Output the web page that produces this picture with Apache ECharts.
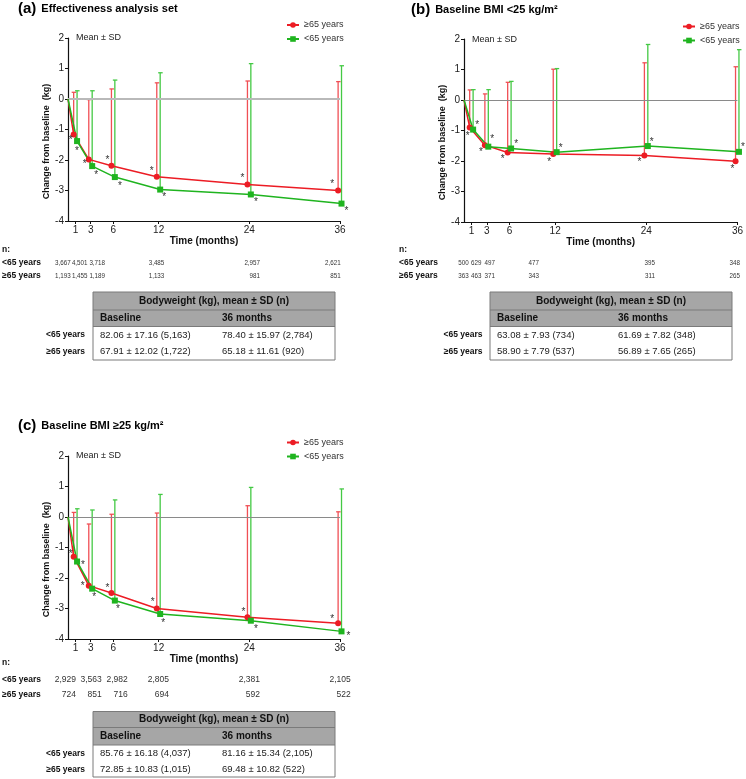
<!DOCTYPE html>
<html>
<head>
<meta charset="utf-8">
<script src="https://cdn.jsdelivr.net/npm/echarts@6/dist/echarts.min.js"></script>
<style>
  html, body { margin: 0; padding: 0; background: #fff; }
  #chart { width: 746px; height: 779px; }
</style>
</head>
<body>
<div id="chart"></div>
<script>
// visit months and x tick labels
var months = [0, 1, 3, 6, 12, 24, 36];
var xTicks = [1, 3, 6, 12, 24, 36];

// (a) effectiveness analysis set: mean change and mean + SD (kg)
var aOldMean = [0, -1.16, -1.98, -2.19, -2.55, -2.80, -3.00];
var aOldUpper = [null, 0.22, -0.02, 0.33, 0.53, 0.59, 0.57];
var aYoungMean = [0, -1.38, -2.20, -2.56, -2.97, -3.13, -3.43];
var aYoungUpper = [null, 0.27, 0.27, 0.62, 0.86, 1.16, 1.09];
var aNYoung = [3667, 4501, 3718, 3485, 2957, 2621];
var aNOld = [1193, 1455, 1189, 1133, 981, 851];
var aTable = [['82.06 ± 17.16 (5,163)', '78.40 ± 15.97 (2,784)'],
              ['67.91 ± 12.02 (1,722)', '65.18 ± 11.61 (920)']];

// (b) baseline BMI <25
var bOldMean = [0, -0.90, -1.48, -1.72, -1.77, -1.82, -2.01];
var bOldUpper = [null, 0.33, 0.20, 0.58, 1.01, 1.22, 1.09];
var bYoungMean = [0, -0.97, -1.53, -1.59, -1.71, -1.51, -1.70];
var bYoungUpper = [null, 0.34, 0.34, 0.61, 1.03, 1.82, 1.65];
var bNYoung = [500, 629, 497, 477, 395, 348];
var bNOld = [363, 463, 371, 343, 311, 265];
var bTable = [['63.08 ± 7.93 (734)', '61.69 ± 7.82 (348)'],
              ['58.90 ± 7.79 (537)', '56.89 ± 7.65 (265)']];

// (c) baseline BMI >=25
var cOldMean = [0, -1.30, -2.25, -2.49, -3.00, -3.29, -3.48];
var cOldUpper = [null, 0.15, -0.23, 0.09, 0.13, 0.37, 0.17];
var cYoungMean = [0, -1.46, -2.35, -2.74, -3.18, -3.40, -3.75];
var cYoungUpper = [null, 0.27, 0.23, 0.56, 0.74, 0.97, 0.92];
var cNYoung = [2929, 3563, 2982, 2805, 2381, 2105];
var cNOld = [724, 851, 716, 694, 592, 522];
var cTable = [['85.76 ± 16.18 (4,037)', '81.16 ± 15.34 (2,105)'],
              ['72.85 ± 10.83 (1,015)', '69.48 ± 10.82 (522)']];

var OLD = '≥65 years', YOUNG = '<65 years';
var FONT = "'Liberation Sans', Arial, sans-serif";
var RED = '#ec1c24', RED_BAR = '#f04f55', GREEN = '#1fb41f', GREEN_BAR = '#44c944';

// pixel offsets of the "*" next to each point (layout only)
var starsA = {old: [[-3, 4], [-4, 3], [-4, -8], [-5, -8], [-5, -8], [-6, -8]],
              young: [[0, 8], [4, 7], [5, 7], [4, 6], [5, 6], [5, 6]]};
var starsB = {old: [[-2, 7], [-4, 5], [-5, 5], [-4, 6], [-5, 5], [-3, 6]],
              young: [[4, -6], [4, -9], [5, -6], [4, -6], [4, -6], [4, -7]]};
var starsC = {old: [[-3, -4], [-6, -1], [-4, -7], [-4, -8], [-4, -7], [-6, -6]],
              young: [[6, 2], [2, 7], [3, 7], [3, 7], [5, 7], [7, 3]]};

var panels = [
  {grid: {left: 68, top: 38, width: 272, height: 183},
   old: [aOldMean, aOldUpper], young: [aYoungMean, aYoungUpper], stars: starsA,
   zero: {color: '#b9b9b9', width: 2}},
  {grid: {left: 464, top: 39, width: 275, height: 183},
   old: [bOldMean, bOldUpper], young: [bYoungMean, bYoungUpper], stars: starsB,
   zero: {color: '#8a8a8a', width: 1}},
  {grid: {left: 68, top: 456, width: 272, height: 183},
   old: [cOldMean, cOldUpper], young: [cYoungMean, cYoungUpper], stars: starsC,
   zero: {color: '#8a8a8a', width: 1}}
];

var JIT_OLD = -0.25, JIT_YOUNG = 0.2;

function errSeries(i, mean, upper, jit, color) {
    var data = [];
    for (var k = 1; k < months.length; k++) {
        data.push([months[k] + jit, mean[k], upper[k]]);
    }
    return {
        type: 'custom', xAxisIndex: i, yAxisIndex: i, data: data, silent: true, z: 4, clip: false,
        encode: {x: 0, y: [1, 2]},
        renderItem: function(params, api) {
            var p0 = api.coord([api.value(0), api.value(1)]);
            var p1 = api.coord([api.value(0), api.value(2)]);
            var st = {stroke: color, lineWidth: 1.3};
            return {type: 'group', children: [
                {type: 'line', shape: {x1: p0[0], y1: p0[1], x2: p1[0], y2: p1[1]}, style: st},
                {type: 'line', shape: {x1: p1[0] - 2, y1: p1[1], x2: p1[0] + 2.5, y2: p1[1]}, style: st}
            ]};
        }
    };
}

function lineSeries(i, name, mean, jit, color, symbol, stars) {
    var data = months.map(function(m, k) {
        var item = {value: [k === 0 ? 0 : m + jit, mean[k]]};
        if (k === 0) {
            item.symbol = 'none';
        } else {
            item.label = {show: true, offset: [stars[k - 1][0], stars[k - 1][1] + 2]};
        }
        return item;
    });
    return {
        type: 'line', name: name, xAxisIndex: i, yAxisIndex: i, data: data, clip: false,
        symbol: symbol, symbolSize: 6, showAllSymbol: true, z: 5,
        itemStyle: {color: color}, lineStyle: {color: color, width: 1.5},
        label: {show: false, position: 'inside', formatter: '*', fontSize: 10, color: '#333'},
        emphasis: {disabled: true}
    };
}

var grids = [], xAxes = [], yAxes = [], series = [];
panels.forEach(function(p, i) {
    grids.push(p.grid);
    xAxes.push({
        type: 'value', gridIndex: i, min: 0, max: 36,
        axisLine: {onZero: false, lineStyle: {color: '#111', width: 1.2}},
        axisTick: {customValues: xTicks, length: 3, lineStyle: {color: '#111'}},
        axisLabel: {customValues: xTicks, margin: 4, fontSize: 10, color: '#222'},
        splitLine: {show: false},
        name: 'Time (months)', nameLocation: 'middle', nameGap: 12,
        nameTextStyle: {fontWeight: 'bold', fontSize: 10, color: '#111'}
    });
    yAxes.push({
        type: 'value', gridIndex: i, min: -4, max: 2, interval: 1,
        axisLine: {show: true, lineStyle: {color: '#111', width: 1.2}},
        axisTick: {show: true, length: 3, lineStyle: {color: '#111'}},
        axisLabel: {margin: 4, fontSize: 10, color: '#222'},
        splitLine: {show: false},
        name: 'Change from baseline  (kg)', nameLocation: 'middle', nameGap: 17,
        nameTextStyle: {fontWeight: 'bold', fontSize: 9, color: '#111', padding: [0, 24, 0, 0]}
    });
    // zero reference line
    series.push({
        type: 'line', xAxisIndex: i, yAxisIndex: i, data: [], z: 2, silent: true,
        markLine: {silent: true, symbol: ['none', 'none'], label: {show: false},
                   lineStyle: {color: p.zero.color, width: p.zero.width, type: 'solid'},
                   data: [{yAxis: 0}]}
    });
    series.push(errSeries(i, p.old[0], p.old[1], JIT_OLD, RED_BAR));
    series.push(errSeries(i, p.young[0], p.young[1], JIT_YOUNG, GREEN_BAR));
    series.push(lineSeries(i, OLD, p.old[0], JIT_OLD, RED, 'circle', p.stars.old));
    series.push(lineSeries(i, YOUNG, p.young[0], JIT_YOUNG, GREEN, 'rect', p.stars.young));
});

function legendAt(left, top) {
    return {
        data: [OLD, YOUNG], orient: 'vertical', left: left, top: top, padding: 0,
        itemGap: 4, itemWidth: 12, itemHeight: 7, selectedMode: false,
        textStyle: {fontSize: 9, color: '#333', lineHeight: 10}
    };
}

function fmt(n) { return n.toLocaleString('en-US'); }

function txt(x, y, s, size, weight, align, color, sx) {
    return {type: 'text', x: x, y: y, scaleX: sx || 1, silent: true, style: {
        text: s, fontSize: size, fontWeight: weight || 'normal', fontFamily: FONT,
        fill: color || '#222', align: align || 'left', verticalAlign: 'middle',
        textAlign: align || 'left', textVerticalAlign: 'middle'}};
}

var graphics = [];

// "Mean ± SD" notes
graphics.push(txt(76, 38, 'Mean ± SD', 9, 'normal', 'left', '#222'));
graphics.push(txt(472, 40, 'Mean ± SD', 9, 'normal', 'left', '#222'));
graphics.push(txt(76, 456, 'Mean ± SD', 9, 'normal', 'left', '#222'));

// n rows under each chart
function nRows(labelX, ys, rights, young, old, size, sx) {
    graphics.push(txt(labelX, ys[0], 'n:', 8.5, 'bold', 'left', '#111'));
    graphics.push(txt(labelX, ys[1], YOUNG, 8.5, 'bold', 'left', '#111'));
    graphics.push(txt(labelX, ys[2], OLD, 8.5, 'bold', 'left', '#111'));
    for (var k = 0; k < rights.length; k++) {
        graphics.push(txt(rights[k], ys[1], fmt(young[k]), size, 'normal', 'right', '#333', sx));
        graphics.push(txt(rights[k], ys[2], fmt(old[k]), size, 'normal', 'right', '#333', sx));
    }
}
nRows(2, [249.5, 262.7, 276], [70.7, 87.5, 105, 164.3, 260, 340.7], aNYoung, aNOld, 8, 0.78);
nRows(399, [249.5, 262.7, 276], [468.7, 481.5, 495, 539, 655, 740], bNYoung, bNOld, 8, 0.78);
nRows(2, [662.7, 679.3, 694.3], [76, 101.7, 127.7, 169, 260, 350.7], cNYoung, cNOld, 8.5, 1);

// bodyweight tables
function table(x, top, w, hs, labelRight, col1, col2, rows) {
    var y1 = top + hs[0], y2 = y1 + hs[1], y3 = y2 + hs[2], y4 = y3 + hs[3];
    graphics.push({type: 'rect', silent: true, shape: {x: x, y: top, width: w, height: y2 - top},
                   style: {fill: '#a6a6a6'}});
    graphics.push({type: 'line', silent: true, shape: {x1: x, y1: y1, x2: x + w, y2: y1},
                   style: {stroke: '#7a7a7a', lineWidth: 1}});
    graphics.push({type: 'line', silent: true, shape: {x1: x, y1: y2, x2: x + w, y2: y2},
                   style: {stroke: '#7a7a7a', lineWidth: 1}});
    graphics.push({type: 'rect', silent: true, shape: {x: x, y: top, width: w, height: y4 - top},
                   style: {fill: 'none', stroke: '#7a7a7a', lineWidth: 1}});
    graphics.push(txt(x + w / 2, top + hs[0] / 2, 'Bodyweight (kg), mean ± SD (n)', 10, 'bold', 'center', '#111'));
    graphics.push(txt(col1, y1 + hs[1] / 2, 'Baseline', 10, 'bold', 'left', '#111'));
    graphics.push(txt(col2, y1 + hs[1] / 2, '36 months', 10, 'bold', 'left', '#111'));
    var mids = [y2 + hs[2] / 2, y3 + hs[3] / 2];
    [YOUNG, OLD].forEach(function(lab, r) {
        graphics.push(txt(labelRight, mids[r], lab, 8.5, 'bold', 'right', '#111'));
        graphics.push(txt(col1, mids[r], rows[r][0], 9.5, 'normal', 'left', '#222'));
        graphics.push(txt(col2, mids[r], rows[r][1], 9.5, 'normal', 'left', '#222'));
    });
}
table(93, 292, 242, [18, 16.5, 17, 16.5], 85, 100, 222, aTable);
table(490, 292, 242, [18, 16.5, 17, 16.5], 482.5, 497, 618, bTable);
table(93, 711.5, 242, [16, 17.5, 16.7, 15.3], 85, 100, 222, cTable);

var titleRich = {
    p: {fontSize: 15, fontWeight: 'bold', color: '#000', fontFamily: FONT, lineHeight: 18},
    t: {fontSize: 11, fontWeight: 'bold', color: '#000', fontFamily: FONT, lineHeight: 18}
};

var option = {
    animation: false,
    textStyle: {fontFamily: FONT},
    title: [
        {left: 18, top: 0, padding: 0, text: '{p|(a)} {t|Effectiveness analysis set}', textStyle: {rich: titleRich}},
        {left: 411, top: 1, padding: 0, text: '{p|(b)} {t|Baseline BMI <25 kg/m²}', textStyle: {rich: titleRich}},
        {left: 18, top: 417, padding: 0, text: '{p|(c)} {t|Baseline BMI ≥25 kg/m²}', textStyle: {rich: titleRich}}
    ],
    legend: [legendAt(286, 20), legendAt(682, 21.5), legendAt(286, 437.5)],
    grid: grids,
    xAxis: xAxes,
    yAxis: yAxes,
    series: series,
    graphic: graphics
};

var chart = echarts.init(document.getElementById('chart'));
chart.setOption(option);
</script>
</body>
</html>
